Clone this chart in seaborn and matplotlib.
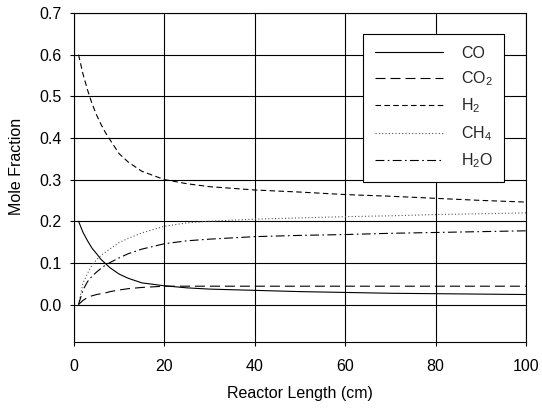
import numpy as np
import pandas as pd
import matplotlib
matplotlib.use("Agg")
import matplotlib.pyplot as plt
import seaborn as sns

# ---- data ----
x_cm = [1, 2, 3, 4, 5, 6, 7, 8, 10, 12, 15, 20, 25, 30, 40, 50, 60, 70, 80, 90, 100]
co  = [0.200, 0.173, 0.153, 0.135, 0.122, 0.108, 0.098, 0.088, 0.073, 0.063, 0.052,
       0.045, 0.040, 0.037, 0.034, 0.031, 0.029, 0.027, 0.026, 0.025, 0.024]
co2 = [0.000, 0.010, 0.017, 0.021, 0.024, 0.026, 0.028, 0.031, 0.035, 0.038, 0.041,
       0.044, 0.044, 0.044, 0.044, 0.044, 0.044, 0.044, 0.044, 0.044, 0.044]
h2  = [0.600, 0.553, 0.515, 0.482, 0.455, 0.432, 0.412, 0.395, 0.362, 0.342, 0.320,
       0.300, 0.290, 0.283, 0.275, 0.270, 0.264, 0.260, 0.255, 0.250, 0.246]
ch4 = [0.000, 0.052, 0.075, 0.095, 0.108, 0.118, 0.126, 0.134, 0.149, 0.159, 0.172,
       0.188, 0.196, 0.200, 0.205, 0.208, 0.211, 0.213, 0.216, 0.218, 0.220]
h2o = [0.000, 0.035, 0.055, 0.068, 0.078, 0.087, 0.095, 0.101, 0.112, 0.122, 0.133,
       0.146, 0.153, 0.157, 0.163, 0.166, 0.168, 0.171, 0.173, 0.175, 0.177]
species = ["CO", "CO2", "H2", "CH4", "H2O"]
legend_labels = ["CO", "CO$_2$", "H$_2$", "CH$_4$", "H$_2$O"]
x_ticks = [0, 20, 40, 60, 80, 100]
y_ticks = [0.0, 0.1, 0.2, 0.3, 0.4, 0.5, 0.6, 0.7]

series = {"CO": co, "CO2": co2, "H2": h2, "CH4": ch4, "H2O": h2o}
df = pd.concat(
    [pd.DataFrame({"x": x_cm, "y": v, "species": k}) for k, v in series.items()],
    ignore_index=True,
)

sns.set_style("white")
plt.rcParams["font.family"] = ["Liberation Sans", "DejaVu Sans"]
plt.rcParams["mathtext.fontset"] = "custom"
plt.rcParams["mathtext.rm"] = "Liberation Sans"
plt.rcParams["mathtext.it"] = "Liberation Sans"
plt.rcParams["mathtext.default"] = "regular"

fig = plt.figure(figsize=(5.42, 4.09), dpi=100)
ax = fig.add_axes([74 / 542, 1 - 342 / 409, 452 / 542, 329 / 409])

dashes = {
    "CO": "",
    "CO2": (9, 4.5),
    "H2": (5, 3),
    "CH4": (1, 2),
    "H2O": (8, 3, 1.5, 3),
}
sns.lineplot(data=df, x="x", y="y", style="species", style_order=species,
             dashes=dashes, color="black", linewidth=0.8, ax=ax, legend=False,
             estimator=None, sort=False)
# CH4 dotted line appears lighter
for ln, sp in zip(ax.lines, species):
    if sp == "CH4":
        ln.set_color("#555555")

ax.set_xlim(0, 100)
ax.set_ylim(-0.09, 0.7)
ax.set_xticks(x_ticks)
ax.set_yticks(y_ticks)
ax.set_yticklabels([f"{v:.1f}" for v in y_ticks])
ax.grid(True, color="black", linewidth=0.8)
ax.set_axisbelow(True)
for s in ax.spines.values():
    s.set_visible(True)
    s.set_color("black")
    s.set_linewidth(0.8)
ax.tick_params(axis="both", which="major", direction="out", length=3,
               width=0.8, color="black", labelsize=11.5, labelcolor="black")
ax.tick_params(axis="x", pad=9)
ax.tick_params(axis="y", pad=6)
ax.tick_params(bottom=True, left=True, top=False, right=False)

ax.set_xlabel("Reactor Length (cm)", fontsize=11.5, color="black")
ax.set_ylabel("Mole Fraction", fontsize=11.5, color="black")
ax.xaxis.set_label_coords(0.5, (342 - 386) / 329)
ax.yaxis.set_label_coords((24 - 74) / 452, (342 - 166) / 329)

leg = ax.legend(ax.lines[:5], legend_labels, loc="upper left",
                bbox_to_anchor=((363 - 74) / 452, (342 - 34) / 329),
                fontsize=11.5, frameon=True, fancybox=False, framealpha=1,
                edgecolor="black", handlelength=4.3, handletextpad=1.1,
                labelspacing=0.55, borderpad=0.72, borderaxespad=0)
leg.get_frame().set_linewidth(0.8)

fig.savefig("out.png", dpi=100)
